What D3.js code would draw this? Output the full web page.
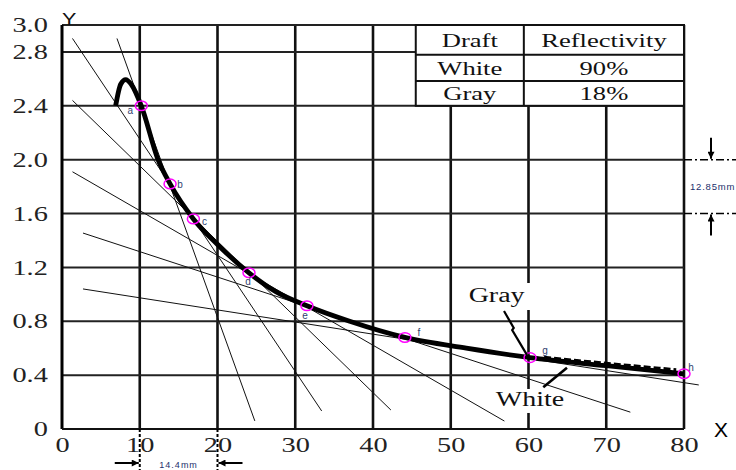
<!DOCTYPE html>
<html>
<head>
<meta charset="utf-8">
<script src="https://cdn.jsdelivr.net/npm/d3@7"></script>
<style>
body { margin: 0; background: #fff; }
svg { display: block; }
</style>
</head>
<body>
<div id="chart"></div>
<script>
// Set up SVG
var svgWidth = 736;
var svgHeight = 470;

var margin = { top: 25, right: 52, bottom: 41, left: 62 };
var width = svgWidth - margin.left - margin.right;
var height = svgHeight - margin.top - margin.bottom;

// Data
var xTicks = [0, 10, 20, 30, 40, 50, 60, 70, 80];
var yTicks = [0, 0.4, 0.8, 1.2, 1.6, 2.0, 2.4, 2.8, 3.0];
var xGrid = [10, 20, 30, 40, 50, 60, 70, 80];
var yGrid = [0.4, 0.8, 1.2, 1.6, 2.0, 2.4, 2.8, 3.0];

var curvePoints = [[6.9, 2.40], [7.55, 2.56], [8.2, 2.595], [8.9, 2.56], [10.2, 2.40], [12.35, 2.0],
  [13.9, 1.82], [16.9, 1.56], [20, 1.37], [24.05, 1.16], [27.5, 1.02], [31.5, 0.915],
  [37, 0.80], [44.1, 0.68], [52, 0.60], [60.2, 0.53], [70, 0.47], [80, 0.41]];
var grayTail = [[62, 0.532], [70, 0.488], [79, 0.44]];

var pointNames = ["a", "b", "c", "d", "e", "f", "g", "h"];
var pointX = [10.2, 13.9, 16.9, 24.05, 31.5, 44.1, 60.2, 80];
var pointY = [2.40, 1.82, 1.56, 1.16, 0.915, 0.68, 0.53, 0.41];

var tangentStart = [[7.07, 2.90], [1.35, 2.90], [1.35, 2.44], [1.35, 1.91], [2.7, 1.455], [2.7, 1.04]];
var tangentEnd = [[24.8, 0.06], [33.4, 0.134], [42.3, 0.141], [56.9, 0.059], [73.1, 0.125], [81.9, 0.327]];

var tableHeader = ["Draft", "Reflectivity"];
var tableRows = [["White", "90%"], ["Gray", "18%"]];

// label nudges (px) for the point letters
var labelDx = [-11, 10, 11, -1, -2, 14, 15, 7];
var labelDy = [6, 1, 3, 10, 11, -4, -6, -5];

var serif = "'Liberation Serif', 'Times New Roman', serif";
var sans = "'Liberation Sans', Arial, sans-serif";

// SVG wrapper
var svg = d3.select("#chart")
  .append("svg")
  .attr("width", svgWidth)
  .attr("height", svgHeight);

var defs = svg.append("defs");
defs.append("marker")
  .attr("id", "arr")
  .attr("viewBox", "0 0 10 10")
  .attr("refX", 10).attr("refY", 5)
  .attr("markerWidth", 4).attr("markerHeight", 3.5)
  .attr("orient", "auto")
  .append("path").attr("d", "M0,0 L10,5 L0,10 z").attr("fill", "#000");

var chartGroup = svg.append("g")
  .attr("transform", `translate(${margin.left}, ${margin.top})`);

var x = d3.scaleLinear().domain([0, 80]).range([0, width]);
var y = d3.scaleLinear().domain([0, 3]).range([height, 0]);

// stretched serif text, like the source picture
function sText(parent, px, py, str, size, anchor) {
  parent.append("g")
    .attr("transform", `translate(${px}, ${py}) scale(1.4, 1)`)
    .append("text")
    .attr("text-anchor", anchor || "middle")
    .style("font-family", serif)
    .attr("font-size", size)
    .attr("fill", "#111")
    .text(str);
}

// Grid
chartGroup.selectAll(".vgrid").data(xGrid).enter().append("line")
  .attr("x1", d => x(d)).attr("x2", d => x(d))
  .attr("y1", y(0)).attr("y2", y(3))
  .attr("stroke", "#111").attr("stroke-width", 2.6);

chartGroup.selectAll(".hgrid").data(yGrid).enter().append("line")
  .attr("x1", x(0)).attr("x2", x(80))
  .attr("y1", d => y(d)).attr("y2", d => y(d))
  .attr("stroke", "#222").attr("stroke-width", 2);

// Frame
chartGroup.append("line")
  .attr("x1", x(0)).attr("x2", x(0)).attr("y1", y(0)).attr("y2", y(3))
  .attr("stroke", "#000").attr("stroke-width", 3);
chartGroup.append("line")
  .attr("x1", x(0)).attr("x2", x(80)).attr("y1", y(0)).attr("y2", y(0))
  .attr("stroke", "#111").attr("stroke-width", 2);

// white patches behind the Gray / White labels
chartGroup.append("rect")
  .attr("x", x(55.9) - 33).attr("y", y(0.943) - 19).attr("width", 70).attr("height", 27)
  .attr("fill", "#fff");
chartGroup.append("rect")
  .attr("x", x(60.2) - 38).attr("y", y(0.171) - 17).attr("width", 76).attr("height", 24)
  .attr("fill", "#fff");

// Table
var tx0 = x(45.5), tx1 = x(59.4), tx2 = x(80);
var rowY = [y(3.0), y(2.78), y(2.585), y(2.4)];
var table = chartGroup.append("g");
table.append("rect")
  .attr("x", tx0).attr("y", rowY[0])
  .attr("width", tx2 - tx0).attr("height", rowY[3] - rowY[0])
  .attr("fill", "#fff").attr("stroke", "#111").attr("stroke-width", 2);
table.append("line").attr("x1", tx1).attr("x2", tx1).attr("y1", rowY[0]).attr("y2", rowY[3])
  .attr("stroke", "#111").attr("stroke-width", 2);
[rowY[1], rowY[2]].forEach(function (ry) {
  table.append("line").attr("x1", tx0).attr("x2", tx2).attr("y1", ry).attr("y2", ry)
    .attr("stroke", "#111").attr("stroke-width", 2);
});
[tableHeader].concat(tableRows).forEach(function (row, i) {
  var cy = (rowY[i] + rowY[i + 1]) / 2 + 7;
  sText(table, (tx0 + tx1) / 2, cy, row[0], 19);
  sText(table, (tx1 + tx2) / 2, cy, row[1], 19);
});

// Axes
var bottomAxis = d3.axisBottom(x).tickValues(xTicks).tickSize(0).tickPadding(8);
var leftAxis = d3.axisLeft(y).tickValues(yTicks).tickSize(0).tickPadding(10.5)
  .tickFormat(d => d === 0 ? "0" : d3.format(".1f")(d));

var xAxisG = chartGroup.append("g").attr("transform", `translate(0, ${height})`).call(bottomAxis);
var yAxisG = chartGroup.append("g").call(leftAxis);
[xAxisG, yAxisG].forEach(function (g) {
  g.select(".domain").remove();
  g.selectAll("text")
    .style("font-family", serif)
    .attr("font-size", 21)
    .attr("fill", "#222")
    .attr("transform", "scale(1.35, 1)");
});

// Tangent lines
chartGroup.selectAll(".tangent").data(tangentStart).enter().append("line")
  .attr("x1", d => x(d[0])).attr("y1", d => y(d[1]))
  .attr("x2", (d, i) => x(tangentEnd[i][0])).attr("y2", (d, i) => y(tangentEnd[i][1]))
  .attr("stroke", "#111").attr("stroke-width", 1);

// Curve
var line = d3.line().x(d => x(d[0])).y(d => y(d[1])).curve(d3.curveMonotoneX);
chartGroup.append("path").datum(curvePoints)
  .attr("d", line)
  .attr("fill", "none").attr("stroke", "#000").attr("stroke-width", 4.8)
  .attr("stroke-linejoin", "round");
chartGroup.append("path").datum(grayTail)
  .attr("d", line)
  .attr("fill", "none").attr("stroke", "#000").attr("stroke-width", 3)
  .attr("stroke-dasharray", "7,3");

// Points
chartGroup.selectAll(".pt").data(pointX).enter().append("ellipse")
  .attr("cx", d => x(d)).attr("cy", (d, i) => y(pointY[i]))
  .attr("rx", 6).attr("ry", 4.8)
  .attr("fill", "none").attr("stroke", "#ff00ff").attr("stroke-width", 1.5);

chartGroup.selectAll(".ptlabel").data(pointNames).enter().append("text")
  .attr("x", (d, i) => x(pointX[i]) + labelDx[i])
  .attr("y", (d, i) => y(pointY[i]) + labelDy[i])
  .attr("dominant-baseline", "middle")
  .attr("text-anchor", "middle")
  .style("font-family", sans).attr("font-size", 10)
  .attr("fill", "#2f3f70")
  .text(d => d);

// Gray / White annotations
sText(chartGroup, x(55.9), y(0.943), "Gray", 20);
chartGroup.append("path")
  .attr("d", `M${x(56.85)},${y(0.876)} L${x(58.1)},${y(0.75)} L${x(57.9)},${y(0.735)} L${x(59.8)},${y(0.55)}`)
  .attr("fill", "none").attr("stroke", "#000").attr("stroke-width", 2.2);
sText(chartGroup, x(60.2), y(0.171), "White", 20);
chartGroup.append("line")
  .attr("x1", x(61.9)).attr("y1", y(0.31)).attr("x2", x(64.95)).attr("y2", y(0.454))
  .attr("stroke", "#000").attr("stroke-width", 2.6);

// Axis letters
svg.append("g").attr("transform", "translate(62, 25) scale(1.35, 1)")
  .append("text").style("font-family", sans).attr("font-size", 16).attr("fill", "#111").text("Y");
svg.append("text").attr("x", 714).attr("y", 437)
  .style("font-family", sans).attr("font-size", 21).attr("fill", "#000").text("X");

// Dimension marks, bottom (x = 10 to 20)
var dimColor = "#1c2f6b";
[10, 20].forEach(function (v) {
  chartGroup.append("line")
    .attr("x1", x(v)).attr("x2", x(v)).attr("y1", height).attr("y2", svgHeight - margin.top)
    .attr("stroke", "#000").attr("stroke-width", 2).attr("stroke-dasharray", "3,2");
});
var ay = 463 - margin.top;
chartGroup.append("line").attr("x1", x(10) - 25).attr("x2", x(10) - 1).attr("y1", ay).attr("y2", ay)
  .attr("stroke", "#000").attr("stroke-width", 2).attr("marker-end", "url(#arr)");
chartGroup.append("line").attr("x1", x(20) + 25).attr("x2", x(20) + 1).attr("y1", ay).attr("y2", ay)
  .attr("stroke", "#000").attr("stroke-width", 2).attr("marker-end", "url(#arr)");
chartGroup.append("text").attr("x", (x(10) + x(20)) / 2).attr("y", ay + 5)
  .attr("text-anchor", "middle").style("font-family", sans).attr("font-size", 9)
  .attr("letter-spacing", 1).attr("fill", dimColor).text("14.4mm");

// Dimension marks, right (y = 1.6 to 2.0)
[2.0, 1.6].forEach(function (v) {
  chartGroup.append("line")
    .attr("x1", x(80)).attr("x2", svgWidth - margin.left).attr("y1", y(v)).attr("y2", y(v))
    .attr("stroke", "#000").attr("stroke-width", 1.5).attr("stroke-dasharray", "8,3,2,3");
});
var ax = 711 - margin.left;
chartGroup.append("line").attr("x1", ax).attr("x2", ax).attr("y1", y(2.0) - 22).attr("y2", y(2.0) - 1)
  .attr("stroke", "#000").attr("stroke-width", 2).attr("marker-end", "url(#arr)");
chartGroup.append("line").attr("x1", ax).attr("x2", ax).attr("y1", y(1.6) + 22).attr("y2", y(1.6) + 1)
  .attr("stroke", "#000").attr("stroke-width", 2).attr("marker-end", "url(#arr)");
chartGroup.append("text").attr("x", 690 - margin.left).attr("y", (y(2.0) + y(1.6)) / 2 + 3)
  .style("font-family", sans).attr("font-size", 9.5).attr("letter-spacing", 0.8)
  .attr("fill", dimColor).text("12.85mm");
</script>
</body>
</html>
